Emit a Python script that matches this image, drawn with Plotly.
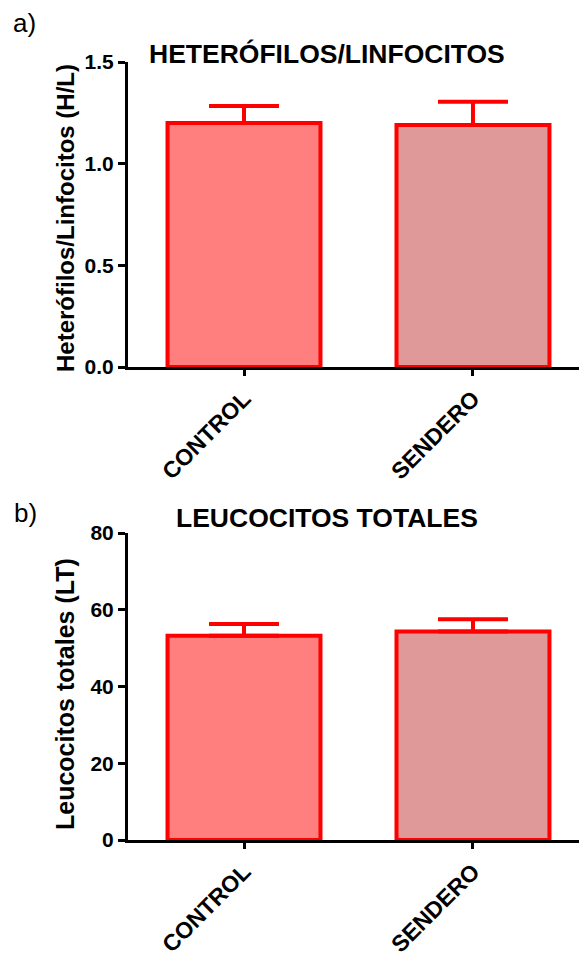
import plotly.graph_objects as go

# Data
categories = ["CONTROL", "SENDERO"]
hl_means = [1.20, 1.19]
hl_err = [0.084, 0.115]
lt_means = [53.2, 54.3]
lt_err = [3.1, 3.2]
hl_ticks = [0.0, 0.5, 1.0, 1.5]
lt_ticks = [0, 20, 40, 60, 80]

fill_colors = ["#FF7F7F", "#E09999"]
red = "#FF0000"
W, H = 579, 957
FONT = "Liberation Sans"


def px(x):
    return x / W


def py(y):
    return 1 - y / H


fig = go.Figure()

for means, errs, xa, ya in [(hl_means, hl_err, "x", "y"), (lt_means, lt_err, "x2", "y2")]:
    fig.add_trace(go.Bar(
        x=categories, y=means, xaxis=xa, yaxis=ya,
        width=0.668,
        marker=dict(color=fill_colors, line=dict(color=red, width=4)),
        error_y=dict(type="data", symmetric=False, array=errs, arrayminus=[0, 0],
                     color=red, thickness=4, width=35),
        showlegend=False,
    ))

xdom = [px(128), 1.0]
xrange_ = [-0.5066, 1.463]

axis_common = dict(showline=True, linecolor="black", linewidth=3, ticks="outside",
                   tickcolor="black", tickwidth=3, showgrid=False, zeroline=False,
                   automargin=False)
ytick_font = dict(family=FONT, size=21, color="black", weight="bold")
xtick_font = dict(family=FONT, size=23, color="black", weight="bold")

fig.update_layout(
    width=W, height=H, margin=dict(l=0, r=0, t=0, b=0, autoexpand=False),
    plot_bgcolor="white", paper_bgcolor="white",
    xaxis=dict(domain=xdom, range=xrange_, anchor="y", tickangle=-45, ticklen=6,
               tickfont=xtick_font, **axis_common),
    yaxis=dict(domain=[py(367), py(62)], range=[0, 1.5], anchor="x",
               tickvals=hl_ticks, tickformat=".1f", ticklen=7, tickfont=ytick_font,
               **axis_common),
    xaxis2=dict(domain=xdom, range=xrange_, anchor="y2", tickangle=-45, ticklen=6,
                tickfont=xtick_font, **axis_common),
    yaxis2=dict(domain=[py(840), py(533)], range=[0, 80], anchor="x2",
                tickvals=lt_ticks, ticklen=7, tickfont=ytick_font, **axis_common),
)

bold = dict(family=FONT, color="black", weight="bold")
annotations = [
    dict(text="HETERÓFILOS/LINFOCITOS", x=px(327), y=py(54), font=dict(size=26.5, **bold)),
    dict(text="LEUCOCITOS TOTALES", x=px(327), y=py(518), font=dict(size=26.5, **bold)),
    dict(text="Heterófilos/Linfocitos (H/L)", x=px(65), y=py(218), textangle=-90,
         font=dict(size=24, **bold)),
    dict(text="Leucocitos totales (LT)", x=px(65), y=py(694), textangle=-90,
         font=dict(size=25, **bold)),
    dict(text="a)", x=px(24), y=py(23), font=dict(family=FONT, size=26, color="black")),
    dict(text="b)", x=px(25), y=py(513), font=dict(family=FONT, size=26, color="black")),
]
for a in annotations:
    fig.add_annotation(xref="paper", yref="paper", xanchor="center", yanchor="middle",
                       showarrow=False, **a)

fig.write_html("out.html")
